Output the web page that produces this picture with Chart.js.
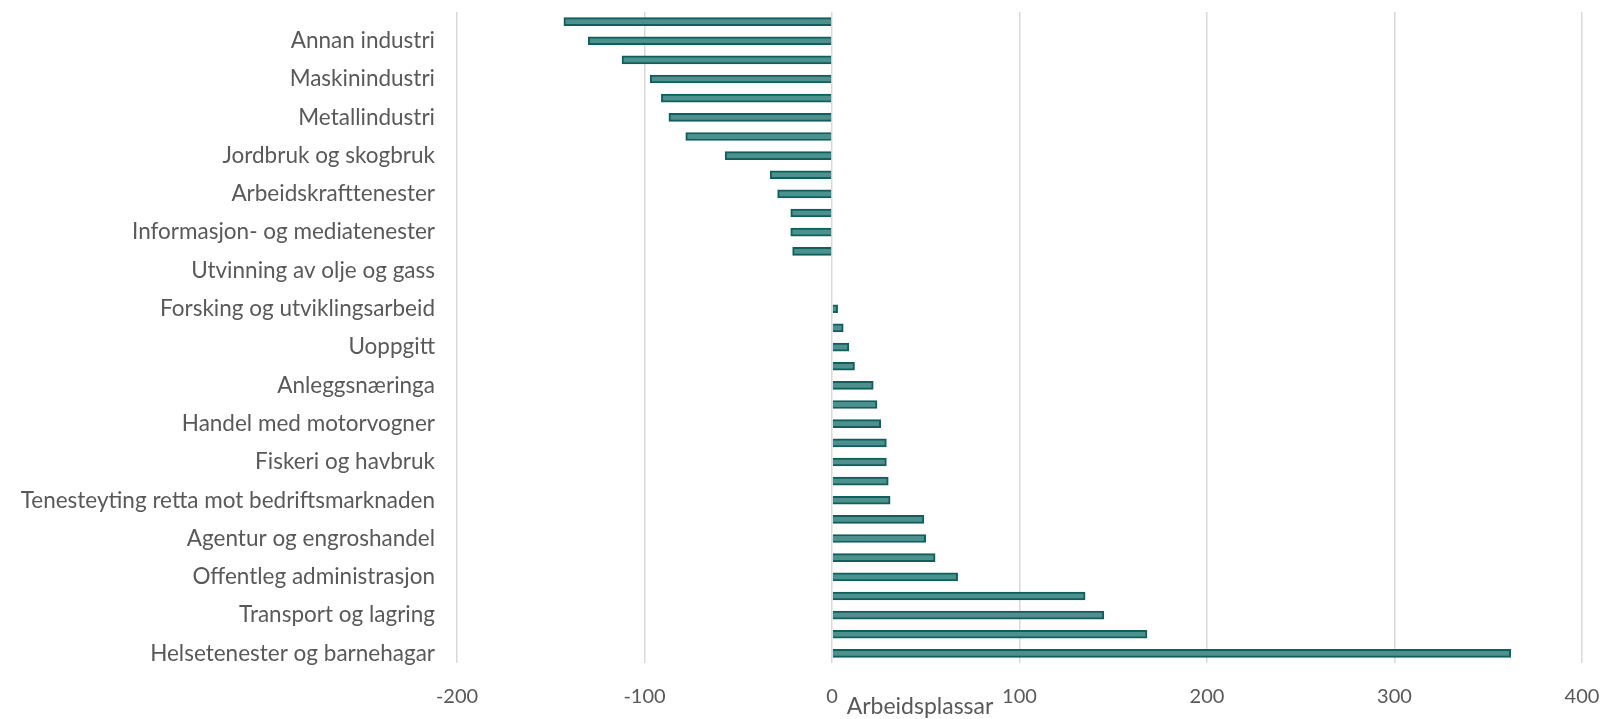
<!DOCTYPE html>
<html>
<head>
<meta charset="utf-8">
<script src="https://cdn.jsdelivr.net/npm/chart.js@4.4.1/dist/chart.umd.min.js"></script>
<style>
  html, body { margin: 0; padding: 0; background: #fff; }
  #wrap { width: 1603px; height: 719px; }
</style>
</head>
<body>
<div id="wrap"><canvas id="chart"></canvas></div>
<script>
// categories (only every other one is labelled in the original)
const labels = [
  '', 'Annan industri', '', 'Maskinindustri', '', 'Metallindustri', '', 'Jordbruk og skogbruk',
  '', 'Arbeidskrafttenester', '', 'Informasjon- og mediatenester', '', 'Utvinning av olje og gass',
  '', 'Forsking og utviklingsarbeid', '', 'Uoppgitt', '', 'Anleggsnæringa', '', 'Handel med motorvogner',
  '', 'Fiskeri og havbruk', '', 'Tenesteyting retta mot bedriftsmarknaden', '', 'Agentur og engroshandel',
  '', 'Offentleg administrasjon', '', 'Transport og lagring', '', 'Helsetenester og barnehagar'
];
const values = [
  -143, -130, -112, -97, -91, -87, -78, -57,
  -33, -29, -22, -22, -21, 0,
  0, 3, 6, 9, 12, 22, 24, 26,
  29, 29, 30, 31, 49, 50,
  55, 67, 135, 145, 168, 362
];
const xMin = -200, xMax = 400, xStep = 100;
const axisTitle = 'Arbeidsplassar';

const FONT = 'Lato, "Open Sans", sans-serif';
const TXT = '#595959';

const titlePlugin = {
  id: 'axisTitle',
  afterDraw(chart) {
    const x = chart.scales.x;
    const ctx = chart.ctx;
    ctx.save();
    ctx.font = '23px ' + FONT;
    ctx.fillStyle = TXT;
    ctx.textAlign = 'center';
    ctx.textBaseline = 'middle';
    ctx.fillText(axisTitle, x.getPixelForValue(0) + 88, 707);
    ctx.restore();
  }
};

new Chart(document.getElementById('chart'), {
  type: 'bar',
  data: {
    labels,
    datasets: [{
      data: values,
      backgroundColor: '#4d918e',
      borderColor: '#0f5f5c',
      borderWidth: 2,
      barThickness: 8
    }]
  },
  options: {
    indexAxis: 'y',
    responsive: true,
    maintainAspectRatio: false,
    animation: false,
    layout: { padding: { top: 12, right: 21, left: 0, bottom: 0 } },
    plugins: { legend: { display: false }, tooltip: { enabled: false } },
    scales: {
      x: {
        min: xMin, max: xMax,
        ticks: { stepSize: xStep, color: TXT, font: { family: FONT, size: 20 }, padding: 22 },
        grid: { color: '#d9d9d9', lineWidth: 1.5, drawTicks: false },
        border: { display: false },
        afterFit(s) { s.height = 56; s.paddingLeft = 0; s.paddingRight = 0; }
      },
      y: {
        ticks: { autoSkip: false, color: TXT, font: { family: FONT, size: 22.5 }, padding: 22 },
        grid: { display: false, drawTicks: false },
        border: { display: false },
        afterFit(s) { s.width = 457; s.paddingTop = 0; s.paddingBottom = 0; }
      }
    }
  },
  plugins: [titlePlugin]
});
</script>
</body>
</html>
